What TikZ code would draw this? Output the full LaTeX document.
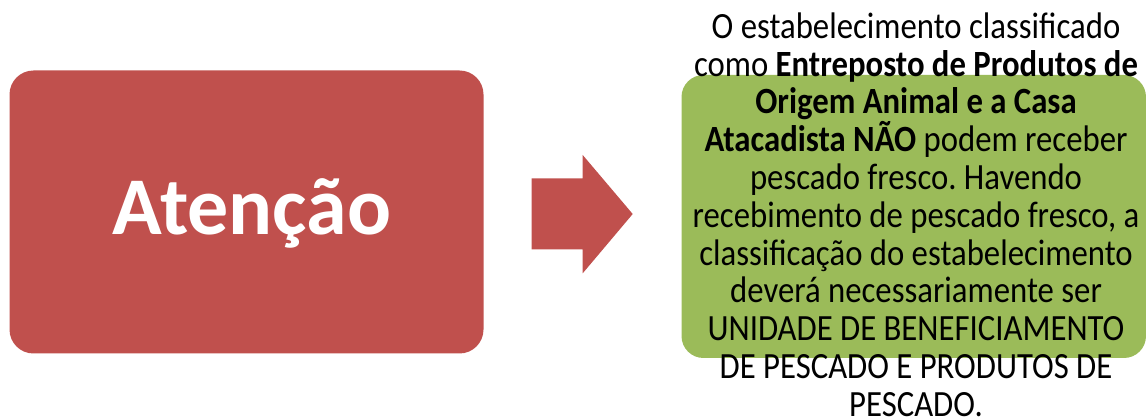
\documentclass[tikz,border=0pt]{standalone}
\usepackage{fontspec}
\setmainfont{Carlito}
\newfontfamily\greenfont{Carlito}[FakeStretch=0.885]
\definecolor{boxred}{HTML}{C0504D}
\definecolor{boxgreen}{HTML}{9BBB59}
\begin{document}
\frenchspacing
\begin{tikzpicture}[x=1pt,y=-1pt,
  redbox/.style={fill=boxred,draw=none,rounded corners=24pt},
  greenbox/.style={fill=boxgreen,draw=none,rounded corners=22pt},
  arrowshape/.style={fill=boxred,draw=none}]
\useasboundingbox (0,0) rectangle (1146,419);
\fill[redbox] (9.5,70.5) rectangle (483.5,353.5);
\node[anchor=base,text=white,font=\fontsize{82}{90}\selectfont\bfseries,inner sep=0] (att) at (252,235) {Atenção};
\fill[arrowshape] (531.7,178.3) -- (582.7,178.3) -- (582.7,155) -- (632.7,214) -- (582.7,273.3) -- (582.7,249.3) -- (531.7,249.3) -- cycle;
\fill[greenbox] (681.5,75) rectangle (1146,358);
\node[align=center,inner sep=0,anchor=south,font=\greenfont\fontsize{37}{37.8}\selectfont] (txt) at (916,416.7) {O estabelecimento classificado\\
como \textbf{Entreposto de Produtos de}\\
\textbf{Origem Animal e a Casa}\\
\textbf{Atacadista NÃO} podem receber\\
pescado fresco. Havendo\\
recebimento de pescado fresco, a\\
classificação do estabelecimento\\
deverá necessariamente ser\\
UNIDADE DE BENEFICIAMENTO\\
DE PESCADO E PRODUTOS DE\\
PESCADO.};
\end{tikzpicture}
\end{document}
